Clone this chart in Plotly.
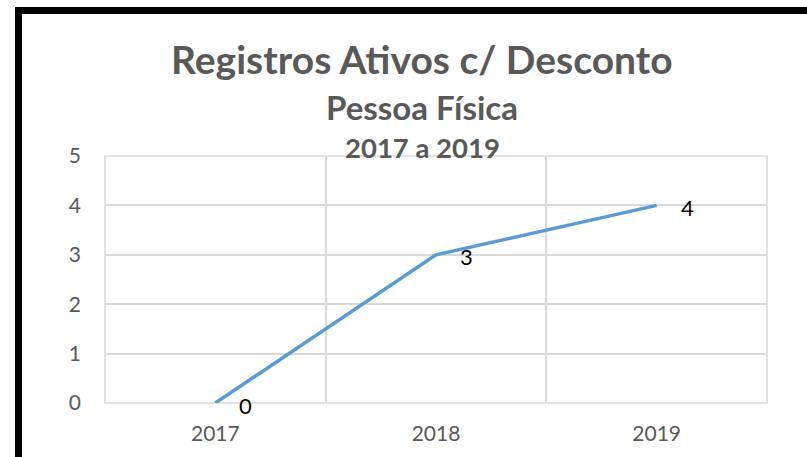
import plotly.graph_objects as go

# ---- data ----
years = ["2017", "2018", "2019"]
values = [0, 3, 4]
title_main = "Registros Ativos c/ Desconto"
title_sub1 = "Pessoa Física"
title_sub2 = "2017 a 2019"
y_ticks = [0, 1, 2, 3, 4, 5]

# ---- layout geometry (pixels) ----
W, H = 807, 457
L, R, T, B = 105, 40, 156, 54
PW, PH = W - L - R, H - T - B

def px_x(px):
    return (px - L) / PW

def px_y(py):
    return (H - B - py) / PH

FONT = "Lato"
GREY = "#595959"
GRID = "#d9d9d9"

xpos = list(range(len(years)))
bounds = [i - 0.5 for i in range(len(years) + 1)]

fig = go.Figure()
fig.add_trace(go.Scatter(
    x=xpos, y=values, mode="lines",
    line=dict(color="#5b9bd5", width=3.5),
    hoverinfo="skip", showlegend=False,
))

annotations = []
for xp, v in zip(xpos, values):
    annotations.append(dict(
        x=xp, y=v, xref="x", yref="y", text=str(v), showarrow=False,
        xanchor="left", yanchor="middle", xshift=22, yshift=-2,
        font=dict(family=FONT, size=22, color="#000000"),
    ))

for txt, cy, size in [(title_main, 59, 39), (title_sub1, 107, 33), (title_sub2, 148, 27.5)]:
    annotations.append(dict(
        x=px_x(422), y=px_y(cy), xref="paper", yref="paper", text="<b>%s</b>" % txt,
        showarrow=False, xanchor="center", yanchor="middle",
        font=dict(family=FONT, size=size, color=GREY),
    ))

fig.update_layout(
    width=W, height=H,
    margin=dict(l=L, r=R, t=T, b=B, pad=0, autoexpand=False),
    paper_bgcolor="white", plot_bgcolor="white",
    annotations=annotations,
    shapes=[
        dict(
            type="rect", xref="paper", yref="paper", layer="below",
            x0=0, x1=1, y0=0, y1=1,
            line=dict(color=GRID, width=1.5), fillcolor="rgba(0,0,0,0)",
        ),
        dict(
            type="rect", xref="paper", yref="paper", layer="above",
            x0=px_x(18.5), x1=px_x(830), y0=px_y(480), y1=px_y(10.5),
            line=dict(color="black", width=7), fillcolor="rgba(0,0,0,0)",
        ),
    ],
    xaxis=dict(
        range=[bounds[0], bounds[-1]], tickvals=xpos, ticktext=years, tickangle=0,
        showgrid=False, automargin=False,
        minor=dict(tickvals=bounds, showgrid=True, gridcolor=GRID, gridwidth=1.5, ticks=""),
        showline=False,
        ticks="", tickfont=dict(family=FONT, size=21, color=GREY), ticklabelstandoff=16,
        zeroline=False, fixedrange=True,
    ),
    yaxis=dict(
        range=[0, 5], tickvals=y_ticks, showgrid=True, gridcolor=GRID, gridwidth=1.5,
        showline=False, ticks="", tickfont=dict(family=FONT, size=21, color=GREY),
        ticklabelstandoff=23, zeroline=False, fixedrange=True, automargin=False,
    ),
)

fig.write_html(
    "out.html",
    config={"displayModeBar": False},
    post_script="document.body.style.margin='0';document.body.style.overflow='hidden';",
)
